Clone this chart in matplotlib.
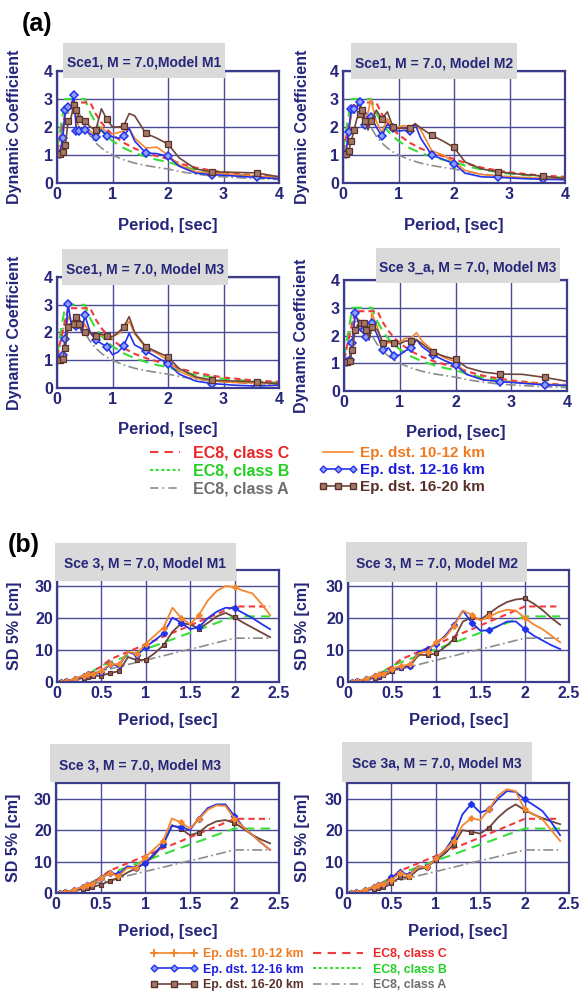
import matplotlib
matplotlib.use('Agg')
import matplotlib.pyplot as plt
from matplotlib.lines import Line2D
from matplotlib.patches import Rectangle

plt.rcParams['font.family'] = ['Liberation Sans', 'DejaVu Sans']

# ---------------- DATA ----------------
# (a) Dynamic coefficient panels
T_dc = [0.02, 0.05, 0.1, 0.15, 0.2, 0.25, 0.3, 0.35, 0.4, 0.45, 0.5, 0.6, 0.7, 0.8, 0.9,
        1.0, 1.1, 1.2, 1.3, 1.4, 1.6, 1.8, 2.0, 2.2, 2.5, 2.8, 3.2, 3.6, 4.0]
T_ec_dc = [0.0, 0.15, 0.2, 0.4, 0.5, 0.6, 0.7, 0.8, 0.9, 1.0, 1.2, 1.4, 1.6, 1.8, 2.0,
           2.25, 2.5, 2.75, 3.0, 3.5, 4.0]
ec8_C_dc = [1.15, 2.44, 2.875, 2.875, 2.875, 2.875, 2.46, 2.16, 1.92, 1.725, 1.44, 1.23, 1.08,
            0.96, 0.86, 0.68, 0.55, 0.46, 0.38, 0.28, 0.22]
ec8_B_dc = [1.2, 3.0, 3.0, 3.0, 3.0, 2.5, 2.14, 1.875, 1.67, 1.5, 1.25, 1.07, 0.94, 0.83, 0.75,
            0.59, 0.48, 0.40, 0.33, 0.245, 0.19]
ec8_A_dc = [1.0, 2.5, 2.5, 2.5, 2.0, 1.67, 1.43, 1.25, 1.11, 1.0, 0.83, 0.71, 0.625, 0.56, 0.5,
            0.395, 0.32, 0.26, 0.22, 0.163, 0.125]

a1_orange = [1.0, 1.05, 1.5, 2.5, 2.6, 2.7, 3.0, 2.2, 2.0, 1.9, 2.0, 1.85, 1.7, 2.0, 1.8, 1.75, 1.8, 1.85, 1.95, 1.6, 1.25, 1.28, 1.0, 0.65, 0.4, 0.35, 0.3, 0.25, 0.18]
a1_blue = [1.0, 1.05, 1.6, 2.6, 2.7, 2.65, 3.16, 1.85, 1.85, 1.85, 1.9, 1.75, 1.65, 1.9, 1.67, 1.65, 1.6, 1.67, 1.95, 1.5, 1.07, 1.05, 0.95, 0.6, 0.35, 0.3, 0.25, 0.2, 0.15]
a1_brown = [1.0, 1.03, 1.1, 1.35, 2.2, 2.3, 2.8, 2.6, 2.3, 2.2, 2.2, 2.0, 1.9, 2.65, 2.27, 2.0, 2.0, 2.03, 2.48, 2.4, 1.77, 1.6, 1.39, 0.9, 0.5, 0.4, 0.38, 0.36, 0.22]

a2_orange = [1.0, 1.05, 1.7, 2.5, 2.7, 2.8, 2.7, 2.6, 2.3, 2.5, 3.0, 2.2, 1.8, 2.3, 1.9, 2.0, 2.05, 2.0, 2.1, 1.9, 1.15, 1.0, 0.75, 0.45, 0.3, 0.25, 0.2, 0.17, 0.15]
a2_blue = [1.0, 1.05, 1.83, 2.63, 2.65, 2.7, 2.9, 2.5, 2.07, 2.2, 2.36, 2.0, 1.67, 2.1, 1.95, 1.85, 1.88, 1.86, 2.1, 1.6, 0.99, 0.85, 0.69, 0.35, 0.22, 0.2, 0.16, 0.13, 0.12]
a2_brown = [1.0, 1.03, 1.15, 1.5, 1.9, 2.3, 2.48, 2.6, 2.2, 1.89, 2.2, 2.6, 2.3, 2.54, 2.0, 1.95, 1.95, 1.95, 2.12, 1.97, 1.7, 1.5, 1.27, 0.75, 0.5, 0.4, 0.31, 0.25, 0.15]

a3_orange = [1.0, 1.05, 1.15, 1.6, 2.6, 2.4, 2.4, 2.5, 2.2, 2.05, 2.3, 1.95, 1.8, 1.9, 1.85, 1.85, 1.95, 2.15, 2.4, 1.95, 1.45, 1.25, 1.0, 0.6, 0.35, 0.25, 0.2, 0.18, 0.15]
a3_blue = [1.0, 1.05, 1.2, 1.76, 3.03, 2.4, 2.3, 2.24, 2.3, 2.0, 2.63, 2.0, 1.73, 1.6, 1.49, 1.2, 1.3, 1.51, 1.97, 1.55, 1.34, 1.1, 0.88, 0.5, 0.25, 0.16, 0.1, 0.07, 0.1]
a3_brown = [1.0, 1.02, 1.05, 1.45, 2.19, 2.25, 2.3, 2.57, 2.3, 2.07, 2.0, 2.0, 1.87, 1.95, 1.87, 1.85, 2.0, 2.19, 2.57, 2.0, 1.49, 1.3, 1.12, 0.7, 0.4, 0.28, 0.25, 0.22, 0.15]

a4_orange = [1.0, 1.05, 1.15, 1.8, 2.7, 2.6, 2.5, 2.4, 2.0, 1.9, 2.8, 2.3, 1.6, 1.75, 1.7, 1.75, 1.9, 1.9, 2.1, 1.8, 1.45, 1.2, 1.05, 0.6, 0.4, 0.35, 0.3, 0.25, 0.2]
a4_blue = [1.0, 1.05, 1.1, 1.72, 2.8, 2.5, 2.3, 2.2, 1.95, 1.84, 2.45, 2.0, 1.48, 1.55, 1.26, 1.3, 1.45, 1.54, 1.85, 1.6, 1.3, 1.1, 0.94, 0.6, 0.4, 0.34, 0.28, 0.22, 0.2]
a4_brown = [1.0, 1.03, 1.07, 1.48, 2.2, 2.4, 2.44, 2.46, 2.2, 1.9, 2.32, 2.2, 1.74, 1.8, 1.74, 1.7, 1.8, 1.81, 1.85, 1.7, 1.39, 1.25, 1.14, 0.85, 0.68, 0.61, 0.6, 0.49, 0.35]

# (b) SD 5% panels
T_sd = [0.02, 0.05, 0.1, 0.15, 0.2, 0.25, 0.3, 0.35, 0.4, 0.45, 0.5, 0.6, 0.7, 0.8, 0.9,
        1.0, 1.1, 1.2, 1.3, 1.4, 1.5, 1.6, 1.7, 1.8, 1.9, 2.0, 2.1, 2.2, 2.3, 2.4]
T_ec_sd = [0.0, 0.1, 0.2, 0.3, 0.4, 0.5, 0.6, 0.8, 1.0, 1.2, 1.4, 1.6, 1.8, 2.0, 2.2, 2.4]
ec8_C_sd = [0, 0.2, 0.79, 1.77, 3.15, 4.92, 7.08, 9.44, 11.8, 14.2, 16.5, 18.9, 21.2, 23.6, 23.6, 23.6]
ec8_B_sd = [0, 0.2, 0.82, 1.85, 3.28, 5.13, 6.16, 8.21, 10.3, 12.3, 14.4, 16.4, 18.5, 20.5, 20.5, 20.5]
ec8_A_sd = [0, 0.17, 0.68, 1.54, 2.74, 3.42, 4.1, 5.47, 6.84, 8.2, 9.6, 10.9, 12.3, 13.7, 13.7, 13.7]

b1_orange = [0.0, 0.1, 0.3, 0.6, 1.0, 1.6, 2.0, 2.5, 2.6, 2.8, 3.5, 5.7, 5.5, 9.5, 8.8, 12.0, 14.5, 17.0, 23.2, 20.0, 18.0, 21.0, 25.5, 28.5, 30.0, 29.6, 28.5, 27.7, 24.5, 20.9]
b1_blue = [0.0, 0.1, 0.3, 0.6, 1.0, 1.5, 2.0, 2.5, 2.5, 2.6, 3.2, 5.5, 5.2, 9.4, 8.4, 11.0, 13.0, 15.2, 20.1, 18.5, 16.5, 17.2, 20.0, 22.0, 23.2, 23.0, 21.5, 20.0, 18.2, 16.5]
b1_brown = [0.0, 0.1, 0.2, 0.4, 0.7, 1.0, 1.3, 1.6, 1.8, 1.9, 2.0, 2.8, 3.4, 7.8, 6.8, 7.0, 9.0, 11.5, 15.7, 18.3, 18.0, 16.7, 18.5, 20.5, 21.6, 20.2, 18.5, 17.0, 15.5, 14.0]

b2_orange = [0.0, 0.1, 0.3, 0.6, 1.0, 1.5, 2.0, 2.4, 2.6, 3.0, 4.2, 5.0, 5.5, 9.0, 9.5, 12.6, 14.0, 17.5, 22.3, 21.0, 19.2, 20.5, 21.8, 22.6, 22.3, 20.0, 18.0, 16.5, 14.5, 12.4]
b2_blue = [0.0, 0.1, 0.3, 0.6, 1.0, 1.5, 2.0, 2.3, 2.6, 3.2, 4.2, 4.8, 5.0, 9.5, 10.3, 12.0, 14.5, 17.9, 22.3, 18.5, 16.0, 16.2, 17.5, 18.9, 18.9, 16.5, 14.5, 13.0, 11.5, 10.3]
b2_brown = [0.0, 0.1, 0.2, 0.4, 0.7, 1.0, 1.3, 1.6, 2.1, 2.5, 3.5, 4.5, 5.0, 8.5, 8.4, 9.0, 11.0, 13.5, 18.9, 20.2, 19.5, 21.5, 23.5, 25.0, 25.8, 26.1, 24.5, 22.5, 20.0, 17.9]

b3_orange = [0.0, 0.1, 0.3, 0.6, 1.0, 1.5, 2.0, 2.5, 3.0, 3.5, 4.7, 6.3, 5.3, 8.0, 8.0, 11.4, 14.0, 16.5, 23.7, 22.5, 20.5, 23.4, 26.5, 27.9, 27.7, 23.7, 21.0, 18.5, 16.0, 13.7]
b3_blue = [0.0, 0.1, 0.3, 0.6, 1.0, 1.5, 2.0, 2.5, 3.0, 3.5, 4.7, 6.3, 6.0, 8.5, 8.0, 9.5, 12.5, 15.5, 21.3, 21.0, 20.0, 23.7, 27.0, 28.2, 28.2, 24.5, 21.0, 18.5, 16.0, 13.7]
b3_brown = [0.0, 0.1, 0.2, 0.4, 0.7, 1.0, 1.3, 1.6, 1.9, 2.2, 2.6, 3.8, 4.7, 6.5, 7.9, 9.5, 12.0, 15.3, 21.6, 20.5, 18.4, 19.2, 21.5, 22.8, 23.2, 22.3, 20.5, 18.5, 17.0, 15.8]

b4_orange = [0.0, 0.1, 0.3, 0.6, 1.0, 1.5, 2.0, 2.5, 3.0, 3.5, 4.2, 6.3, 5.5, 8.5, 8.2, 11.0, 13.5, 16.5, 21.5, 23.8, 23.2, 26.6, 31.0, 33.0, 32.4, 26.6, 25.0, 23.5, 20.0, 16.6]
b4_blue = [0.0, 0.1, 0.3, 0.6, 1.0, 1.5, 2.0, 2.5, 3.0, 3.5, 5.0, 6.6, 5.8, 8.5, 8.2, 11.0, 13.5, 17.5, 25.0, 28.4, 25.6, 26.6, 30.0, 32.4, 32.2, 29.8, 28.0, 26.1, 22.5, 18.4]
b4_brown = [0.0, 0.1, 0.2, 0.4, 0.7, 1.0, 1.3, 1.6, 1.9, 2.2, 3.2, 5.0, 5.0, 7.5, 8.2, 10.5, 12.5, 15.4, 20.0, 19.5, 18.9, 20.8, 24.0, 26.5, 28.2, 26.4, 25.0, 23.8, 22.8, 21.9]

titles_a = ["Sce1, M = 7.0,Model M1", "Sce1, M = 7.0, Model M2",
            "Sce1, M = 7.0, Model M3", "Sce 3_a, M = 7.0, Model M3"]
titles_b = ["Sce 3, M = 7.0, Model M1", "Sce 3, M = 7.0, Model M2",
            "Sce 3, M = 7.0, Model M3", "Sce 3a, M = 7.0, Model M3"]
xticks_a = [0, 1, 2, 3, 4]
yticks_a = [0, 1, 2, 3, 4]
xticks_b = [0, 0.5, 1, 1.5, 2, 2.5]
xticklabels_b = ["0", "0.5", "1", "1.5", "2", "2.5"]
yticks_b = [0, 10, 20, 30]
lab_ec8 = ["EC8, class C", "EC8, class B", "EC8, class A"]
lab_ep = ["Ep. dst. 10-12 km", "Ep. dst. 12-16 km", "Ep. dst. 16-20 km"]

# ---------------- STYLE ----------------
W, H = 579, 998
NAVY = '#26267a'
FRAME = '#3c3c8c'
GRIDC = '#4c4c96'
ORANGE = '#f5862c'
BLUE = '#2233ee'
BROWN = '#6e463c'
RED = '#f23a3a'
GREEN = '#38dd38'
GREY = '#8c8c8c'
BOXC = '#dadada'

fig = plt.figure(figsize=(W / 100, H / 100), dpi=100)


def fr(l, t, r, b):
    return [l / W, 1 - b / H, (r - l) / W, (b - t) / H]


def add_box(l, t, r, b, text):
    fig.add_artist(Rectangle((l / W, 1 - b / H), (r - l) / W, (b - t) / H,
                             transform=fig.transFigure, facecolor=BOXC,
                             edgecolor='none', zorder=5))
    fig.text((l + r) / 2 / W, 1 - ((t + b) / 2 + 2) / H, text, ha='center', va='center',
             fontsize=10, fontweight='bold', color=NAVY, zorder=6)


def style(ax, xlim, ylim, xt, xtl, yt, ylabel, ylx, xly):
    ax.set_xlim(*xlim)
    ax.set_ylim(*ylim)
    ax.set_xticks(xt)
    ax.set_xticklabels(xtl)
    ax.set_yticks(yt)
    ax.set_yticklabels([str(v) for v in yt])
    ax.grid(True, color=GRIDC, lw=1.0)
    ax.set_axisbelow(True)
    for s in ax.spines.values():
        s.set_color(FRAME)
        s.set_linewidth(1.6)
    ax.tick_params(colors=NAVY, labelsize=11.5, length=0, pad=3)
    for lab in ax.get_xticklabels() + ax.get_yticklabels():
        lab.set_fontweight('bold')
    ax.set_ylabel(ylabel, fontsize=11.5, fontweight='bold', color=NAVY)
    ax.set_xlabel("Period, [sec]", fontsize=12, fontweight='bold', color=NAVY)
    ax.yaxis.set_label_coords(ylx, 0.5)
    ax.xaxis.set_label_coords(0.5, xly)


red_ls = (0, (3, 2))
green_ls = (0, (5, 3))
grey_ls = (0, (6, 2, 1, 2))

# ---------------- PANELS (a) ----------------
pos_a = [(57, 71, 279, 183), (343, 71, 565, 183), (57, 277, 279, 388), (344, 280, 567, 391)]
box_a = [(63, 43, 225, 78), (351, 43, 517, 79), (62, 249, 228, 285), (376, 248, 560, 283)]
data_a = [(a1_orange, a1_blue, a1_brown), (a2_orange, a2_blue, a2_brown),
          (a3_orange, a3_blue, a3_brown), (a4_orange, a4_blue, a4_brown)]
ylx_a = [-0.158, -0.149, -0.158, -0.155]
mk_a = [1, 2, 3, 4, 6, 7, 8, 10, 12, 14, 17, 20, 22, 25, 27]

for i in range(4):
    ax = fig.add_axes(fr(*pos_a[i]))
    o, bl, br = data_a[i]
    ax.plot(T_ec_dc, ec8_A_dc, color=GREY, lw=1.2, ls=grey_ls)
    ax.plot(T_ec_dc, ec8_B_dc, color=GREEN, lw=1.5, ls=green_ls)
    ax.plot(T_ec_dc, ec8_C_dc, color=RED, lw=1.5, ls=red_ls)
    ax.plot(T_dc, o, color=ORANGE, lw=1.2)
    ax.plot(T_dc, bl, color=BLUE, lw=1.2, marker='D', ms=3.8, mfc='#8fa0ff',
            mec=BLUE, mew=1.1, markevery=mk_a)
    ax.plot(T_dc, br, color=BROWN, lw=1.2, marker='s', ms=4.5, mfc='#a27868',
            mec='#5a3028', mew=0.9, markevery=mk_a)
    style(ax, (0, 4), (0, 4), xticks_a, [str(v) for v in xticks_a], yticks_a,
          "Dynamic Coefficient", ylx_a[i], -0.31)
    add_box(*box_a[i], titles_a[i])

# ---------------- PANELS (b) ----------------
pos_b = [(57, 570, 279, 682), (348, 570, 569, 682), (56, 783, 279, 893), (347, 783, 569, 893)]
box_b = [(55, 543, 236, 581), (346, 542, 527, 582), (50, 744, 230, 782), (342, 742, 532, 782)]
data_b = [(b1_orange, b1_blue, b1_brown), (b2_orange, b2_blue, b2_brown),
          (b3_orange, b3_blue, b3_brown), (b4_orange, b4_blue, b4_brown)]
ylx_b = [-0.158, -0.171, -0.158, -0.165]
mk_b = [1, 2, 4, 6, 7, 8, 10, 11, 12, 14, 15, 17, 19, 21, 25]

for i in range(4):
    ax = fig.add_axes(fr(*pos_b[i]))
    o, bl, br = data_b[i]
    ax.plot(T_ec_sd, ec8_A_sd, color=GREY, lw=1.2, ls=grey_ls)
    ax.plot(T_ec_sd, ec8_B_sd, color=GREEN, lw=1.5, ls=green_ls)
    ax.plot(T_ec_sd, ec8_C_sd, color=RED, lw=1.5, ls=red_ls)
    ax.plot(T_sd, br, color=BROWN, lw=1.3, marker='s', ms=3.5, mfc='#8a5e50',
            mec='#5a3028', mew=0.8, markevery=mk_b)
    ax.plot(T_sd, bl, color=BLUE, lw=1.3, marker='D', ms=3.2, mfc=BLUE,
            mec=BLUE, markevery=mk_b)
    ax.plot(T_sd, o, color=ORANGE, lw=1.3, marker='P', ms=3.5, mfc=ORANGE,
            mec=ORANGE, markevery=mk_b)
    style(ax, (0, 2.5), (0, 35), xticks_b, xticklabels_b, yticks_b,
          "SD 5% [cm]", ylx_b[i], -0.28)
    add_box(*box_b[i], titles_b[i])

# ---------------- LEGENDS ----------------
ec8_handles = [Line2D([], [], color=RED, lw=1.5, ls=(0, (4, 3))),
               Line2D([], [], color=GREEN, lw=1.5, ls=(0, (1.5, 1.2))),
               Line2D([], [], color=GREY, lw=1.2, ls=(0, (5, 2.5, 1, 2.5)))]
ec8_txt = ['#e82424', '#22d022', '#6e6e6e']
ep_txt = ['#f07a20', '#1c1ce0', '#5a3028']

ep_a = [Line2D([], [], color=ORANGE, lw=1.2),
        Line2D([], [], color=BLUE, lw=1.2, marker='D', ms=3.5, mfc='#8fa0ff', mec=BLUE),
        Line2D([], [], color=BROWN, lw=1.2, marker='s', ms=4.5, mfc='#a27868', mec='#5a3028')]
ep_b = [Line2D([], [], color=ORANGE, lw=1.2, marker='+', ms=6, mew=1.4),
        Line2D([], [], color=BLUE, lw=1.2, marker='D', ms=3.5, mfc='#8fa0ff', mec=BLUE),
        Line2D([], [], color=BROWN, lw=1.2, marker='s', ms=4.5, mfc='#a27868', mec='#5a3028')]


def add_legend(handles, labels, colors, x, ytop, fs, hl, tp, npts, ls_sp):
    leg = fig.legend(handles, labels, loc='upper left',
                     bbox_to_anchor=(x / W, 1 - ytop / H), frameon=False,
                     handlelength=hl, handletextpad=tp, numpoints=npts,
                     borderpad=0, borderaxespad=0, labelspacing=ls_sp,
                     prop={'weight': 'bold', 'size': fs})
    for t, c in zip(leg.get_texts(), colors):
        t.set_color(c)
    return leg


add_legend(ec8_handles, lab_ec8, ec8_txt, 150, 446, 11.5, 1.9, 0.8, 1, 0.16)
add_legend(ep_a, lab_ep, ep_txt, 318, 446, 11, 2.6, 0.15, 3, 0.21)
add_legend(ep_b, lab_ep, ep_txt, 150, 948, 8.8, 3.9, 0.4, 3, 0.3)
add_legend(ec8_handles, lab_ec8, ec8_txt, 313, 948, 8.8, 4.1, 0.8, 1, 0.3)

# panel labels
fig.text(22 / W, 1 - 24 / H, "(a)", fontsize=18, fontweight='bold', color='black',
         ha='left', va='center')
fig.text(8 / W, 1 - 545 / H, "(b)", fontsize=18, fontweight='bold', color='black',
         ha='left', va='center')

fig.savefig('out.png', dpi=100)
